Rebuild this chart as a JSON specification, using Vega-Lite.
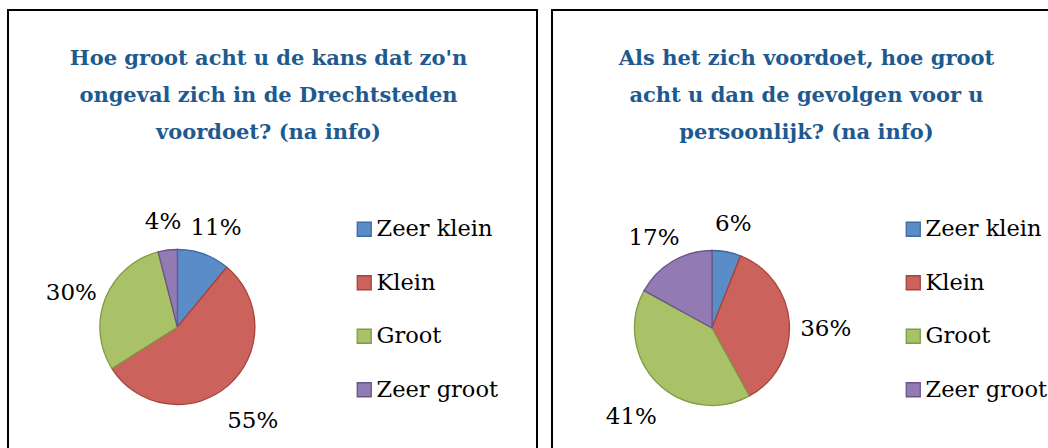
{
  "$schema": "https://vega.github.io/schema/vega-lite/v6.json",
  "padding": {"left": 7, "top": 9, "right": 0, "bottom": 0},
  "background": "white",
  "spacing": 13,
  "datasets": {
    "kans": [
      {"category": "Zeer klein", "rank": 1, "pct": 0.11},
      {"category": "Klein", "rank": 2, "pct": 0.55},
      {"category": "Groot", "rank": 3, "pct": 0.30},
      {"category": "Zeer groot", "rank": 4, "pct": 0.04}
    ],
    "gevolgen": [
      {"category": "Zeer klein", "rank": 1, "pct": 0.06},
      {"category": "Klein", "rank": 2, "pct": 0.36},
      {"category": "Groot", "rank": 3, "pct": 0.41},
      {"category": "Zeer groot", "rank": 4, "pct": 0.17}
    ]
  },
  "config": {
    "view": {"stroke": "black", "strokeWidth": 2},
    "title": {
      "font": "DejaVu Serif",
      "fontSize": 21,
      "fontWeight": "bold",
      "color": "#1F5A8F",
      "lineHeight": 37,
      "offset": -133,
      "anchor": "middle"
    },
    "legend": {
      "title": null,
      "symbolType": "square",
      "symbolSize": 196,
      "symbolStrokeWidth": 1.3,
      "labelFont": "DejaVu Serif",
      "labelFontSize": 22.5,
      "labelColor": "black",
      "rowPadding": 30.5,
      "labelOffset": 1,
      "padding": 0
    }
  },
  "resolve": {"scale": {"color": "independent", "stroke": "independent", "theta": "independent"}},
  "hconcat": [
    {
      "width": 529,
      "height": 460,
      "view": {"stroke": "black", "strokeWidth": 2, "fill": "white"},
      "data": {"name": "kans"},
      "title": {"text": ["Hoe groot acht u de kans dat zo'n", "ongeval zich in de Drechtsteden", "voordoet? (na info)"], "dx": -4},
      "encoding": {
        "theta": {"field": "pct", "type": "quantitative", "stack": true},
        "order": {"field": "rank", "type": "quantitative"}
      },
      "layer": [
        {
          "mark": {"type": "arc", "outerRadius": 77.5, "x": 169.4, "y": 317, "strokeWidth": 1.3},
          "encoding": {
            "color": {
              "field": "category", "type": "nominal",
              "scale": {"domain": ["Zeer klein", "Klein", "Groot", "Zeer groot"], "range": ["#5A8DC8", "#CB635C", "#A9C267", "#927BB3"]},
              "legend": {"orient": "none", "legendX": 345, "legendY": 208}
            },
            "stroke": {
              "field": "category", "type": "nominal",
              "scale": {"domain": ["Zeer klein", "Klein", "Groot", "Zeer groot"], "range": ["#3D6BA3", "#A8433E", "#7E9B45", "#6B5489"]},
              "legend": {"orient": "none", "legendX": 345, "legendY": 208}
            }
          }
        },
        {
          "mark": {"type": "text", "radius": 114, "dy": 8, "x": 169.4, "y": 317, "font": "DejaVu Serif", "fontSize": 23, "color": "black"},
          "encoding": {
            "detail": {"field": "category", "type": "nominal"},
            "text": {"field": "pct", "type": "quantitative", "format": ".0%"}
          }
        }
      ]
    },
    {
      "width": 529,
      "height": 460,
      "view": {"stroke": "black", "strokeWidth": 2, "fill": "white"},
      "data": {"name": "gevolgen"},
      "title": {"text": ["Als het zich voordoet, hoe groot", "acht u dan de gevolgen voor u", "persoonlijk? (na info)"], "dx": -10},
      "encoding": {
        "theta": {"field": "pct", "type": "quantitative", "stack": true},
        "order": {"field": "rank", "type": "quantitative"}
      },
      "layer": [
        {
          "mark": {"type": "arc", "outerRadius": 77.5, "x": 160, "y": 318, "strokeWidth": 1.3},
          "encoding": {
            "color": {
              "field": "category", "type": "nominal",
              "scale": {"domain": ["Zeer klein", "Klein", "Groot", "Zeer groot"], "range": ["#5A8DC8", "#CB635C", "#A9C267", "#927BB3"]},
              "legend": {"orient": "none", "legendX": 350, "legendY": 208}
            },
            "stroke": {
              "field": "category", "type": "nominal",
              "scale": {"domain": ["Zeer klein", "Klein", "Groot", "Zeer groot"], "range": ["#3D6BA3", "#A8433E", "#7E9B45", "#6B5489"]},
              "legend": {"orient": "none", "legendX": 350, "legendY": 208}
            }
          }
        },
        {
          "mark": {"type": "text", "radius": 114, "dy": 8, "x": 160, "y": 318, "font": "DejaVu Serif", "fontSize": 23, "color": "black"},
          "encoding": {
            "detail": {"field": "category", "type": "nominal"},
            "text": {"field": "pct", "type": "quantitative", "format": ".0%"}
          }
        }
      ]
    }
  ]
}
